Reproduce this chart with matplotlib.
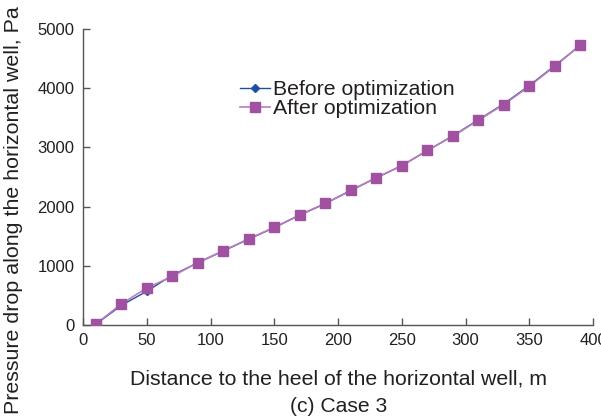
import matplotlib
matplotlib.use("Agg")
import matplotlib.pyplot as plt

plt.rcParams['font.family'] = ['Liberation Sans', 'DejaVu Sans']

distance = [10, 30, 50, 70, 90, 110, 130, 150, 170, 190, 210, 230, 250, 270, 290, 310, 330, 350, 370, 390]
before_opt = [12, 330, 570, 840, 1050, 1250, 1450, 1645, 1855, 2050, 2270, 2485, 2690, 2945, 3195, 3465, 3735, 4045, 4380, 4725]
after_opt = [15, 355, 625, 821, 1055, 1255, 1455, 1650, 1860, 2055, 2275, 2489, 2692, 2948, 3187, 3458, 3723, 4032, 4370, 4725]

x_ticks = [0, 50, 100, 150, 200, 250, 300, 350, 400]
y_ticks = [0, 1000, 2000, 3000, 4000, 5000]

blue = '#1f4fa0'
purple = '#a052a0'
purple_line = '#b97fbb'
dark = '#231f20'

fig = plt.figure(figsize=(6.01, 4.20), dpi=100)
ax = fig.add_axes([83/601, 1 - 325/420, (593 - 83)/601, (325 - 29)/420])

ax.plot(distance, before_opt, color=blue, lw=1.0, marker='D', ms=4,
        mfc=blue, mec=blue, label='Before optimization', zorder=3)
ax.plot(distance, after_opt, color=purple_line, lw=1.2, marker='s', ms=7.5,
        mfc=purple, mec=purple, label='After optimization', zorder=4)

ax.set_xlim(0, 400)
ax.set_ylim(0, 5000)
ax.set_xticks(x_ticks)
ax.set_yticks(y_ticks)
ax.tick_params(direction='in', length=5, width=1, colors='#555555',
               labelcolor=dark, labelsize=12, pad=6)
for s in ['top', 'right']:
    ax.spines[s].set_visible(False)
for s in ['left', 'bottom']:
    ax.spines[s].set_color('#555555')
    ax.spines[s].set_linewidth(1.0)
for lab in ax.get_xticklabels():
    lab.set_clip_on(False)

ax.set_xlabel('Distance to the heel of the horizontal well, m', fontsize=15.3,
              color=dark, labelpad=15)
fig.text(14/601, 1 - 210/420, 'Pressure drop along the horizontal well, Pa',
         fontsize=15.4, color=dark, rotation=90, ha='center', va='center')

leg = ax.legend(loc='upper left', bbox_to_anchor=(240/601, 1 - 80/420),
                bbox_transform=fig.transFigure, frameon=False, fontsize=15.3,
                handlelength=1.4, handletextpad=0.15, labelspacing=0.0,
                borderaxespad=0, borderpad=0)
for t in leg.get_texts():
    t.set_color(dark)

fig.text(339/601, 1 - 406/420, '(c) Case 3', fontsize=15.2, color=dark,
         ha='center', va='center')

fig.savefig('out.png', dpi=100)
